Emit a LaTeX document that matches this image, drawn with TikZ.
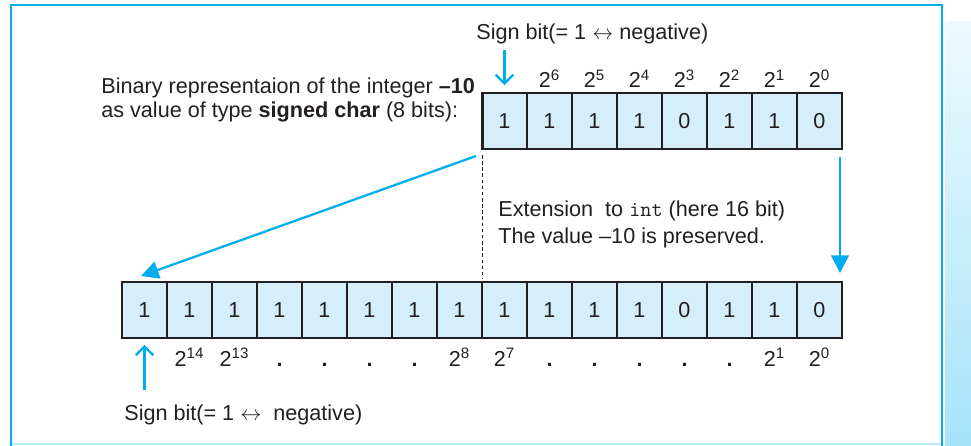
\documentclass[tikz,border=0pt]{standalone}
\usepackage{fontspec}
\setmainfont{Liberation Sans}
\definecolor{SIGNBLUE}{HTML}{00AEEF}
\definecolor{CELLFILL}{HTML}{D5EEF9}
\definecolor{INK}{HTML}{231F20}
\usetikzlibrary{calc,arrows.meta}

\begin{document}
\begin{tikzpicture}[x=0.02cm, y=-0.02cm,
  txt/.style={font=\fontsize{12.3}{14.2}\selectfont, text=INK, inner sep=0pt},
  cell/.style={draw=INK, line width=0.75pt, fill=CELLFILL, rectangle,
    minimum width=0.9cm, minimum height=1.12cm, inner sep=0pt, outer sep=0pt,
    font=\fontsize{12.3}{14.2}\selectfont, text=INK},
  reg/.style={draw=INK, line width=1.7pt},
  pw/.style={txt, anchor=base},
  sarr/.style={-{Straight Barb[length=5pt,width=10pt,line width=1.3pt]}, SIGNBLUE, line width=1.3pt},
  arr/.style={-{Triangle[length=10pt,width=10pt]}, SIGNBLUE, line width=1.3pt}
]
\useasboundingbox (0,0) rectangle (971,446);

% frame and side panel
\shade[top color=SIGNBLUE!7, bottom color=SIGNBLUE!35] (945,22) rectangle (971,446);
\draw[SIGNBLUE!25, line width=0.6pt] (11,444) -- (942,444);
\draw[SIGNBLUE, line width=1.3pt] (11,446) -- (11,5) -- (942,5) -- (942,446);

% signed char
\foreach \b [count=\i] in {1,1,1,1,0,1,1,0}
  \node[cell] (t\i) at ({482+(\i-0.5)*45},121) {\b};
\draw[reg] (t1.north west) rectangle (t8.south east);
\foreach \e [count=\i from 2] in {6,5,4,3,2,1,0}
  \node[pw] (tp\i) at ({482+(\i-0.5)*45},88) {2\textsuperscript{\e}};

% int
\foreach \b [count=\i] in {1,1,1,1,1,1,1,1,1,1,1,1,0,1,1,0}
  \node[cell] (b\i) at ({122+(\i-0.5)*45},310) {\b};
\draw[reg] (b1.north west) rectangle (b16.south east);
\foreach \lab [count=\i from 2] in {2\textsuperscript{14},2\textsuperscript{13},\textbf{.},\textbf{.},\textbf{.},\textbf{.},
    2\textsuperscript{8},2\textsuperscript{7},\textbf{.},\textbf{.},\textbf{.},\textbf{.},\textbf{.},2\textsuperscript{1},2\textsuperscript{0}}
  \node[pw] (bp\i) at ({122+(\i-0.5)*45},366) {\lab};

% texts
\node[txt, anchor=base west] (signtop) at (476,40) {Sign bit(= 1 $\leftrightarrow$ negative)};
\node[txt, anchor=base west] (desc1) at (101,94) {Binary representaion of the integer \textbf{--10}};
\node[txt, anchor=base west] (desc2) at (101,118) {as value of type \textbf{signed char} (8 bits):};
\node[txt, anchor=base west] (ext1) at (498,216) {Extension\ \ to \texttt{int} (here 16 bit)};
\node[txt, anchor=base west] (ext2) at (498,243) {The value --10 is preserved.};
\node[txt, anchor=base west] (signbot) at (124,420) {Sign bit(= 1 $\leftrightarrow$\ \ negative)};

% arrows
\draw[sarr] ($(signtop.south -| t1.north)+(0,5)$) -- ($(t1.north)+(0,-8)$);
\draw[sarr] ($(signbot.north -| b1.south)+(0,-14)$) -- ($(b1.south)+(0,7)$);
\draw[arr] ($(t1.south west)+(-6,7)$) -- ($(b1.north west)+(19,-6)$);
\draw[arr] ($(t8.south east)+(-2,8)$) -- ($(b16.north east)+(-2,-9)$);
\draw[INK, line width=0.5pt, dash pattern=on 2pt off 1.5pt] ($(t1.south west)+(0,6)$) -- ($(b9.north west)+(0,-4)$);
\end{tikzpicture}
\end{document}
